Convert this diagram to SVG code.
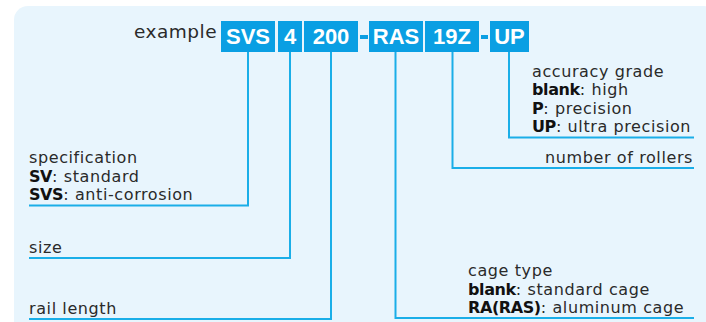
<svg xmlns="http://www.w3.org/2000/svg" width="706" height="322" viewBox="0 0 706 322">
<style>
.t{font-family:"DejaVu Sans",sans-serif;font-size:16px;letter-spacing:0.6px;fill:#2a2a2a}
.b{font-weight:bold;fill:#111;letter-spacing:-0.4px}
.k{font-family:"Liberation Sans",Arial,sans-serif;font-size:22px;font-weight:bold;fill:#fff;text-anchor:middle}
.box{fill:#0a9fe3}
.ln{fill:none;stroke:#1aaee8;stroke-width:2}
</style>
<rect x="14" y="6" width="704" height="340" rx="14" fill="#e8f5fd"/>
<text x="134" y="38" class="t" style="font-size:18.5px;letter-spacing:0.5px">example</text>
<g id="n-svs"><rect class="box" x="221" y="21" width="54" height="31"/><text class="k" x="248" y="44">SVS</text></g>
<g id="n-4"><rect class="box" x="278" y="21" width="24" height="31"/><text class="k" x="290" y="44">4</text></g>
<g id="n-200"><rect class="box" x="304" y="21" width="54" height="31"/><text class="k" x="331" y="44">200</text></g>
<g id="n-dash1"><rect class="box" x="360" y="35" width="8" height="4"/></g>
<g id="n-ras"><rect class="box" x="369" y="21" width="54" height="31"/><text class="k" x="396" y="44">RAS</text></g>
<g id="n-19z"><rect class="box" x="425" y="21" width="54" height="31"/><text class="k" x="452" y="44">19Z</text></g>
<g id="n-dash2"><rect class="box" x="481" y="35" width="7" height="4"/></g>
<g id="n-up"><rect class="box" x="490" y="21" width="39" height="31"/><text class="k" x="509.5" y="44">UP</text></g>
<g id="connectors">
<path class="ln" d="M248 52V205.5H29"/>
<path class="ln" d="M290 52V258H29"/>
<path class="ln" d="M331 52V319H29"/>
<path class="ln" d="M395.5 52V318H694"/>
<path class="ln" d="M452.5 52V168H694"/>
<path class="ln" d="M509 52V137.5H694"/>
</g>
<g id="l-spec"><text class="t" x="29" y="163">specification</text>
<text class="t" x="29" y="181.5"><tspan class="b">SV</tspan>: standard</text>
<text class="t" x="29" y="200"><tspan class="b">SVS</tspan>: anti-corrosion</text></g>
<g id="l-size"><text class="t" x="29" y="252.5">size</text></g>
<g id="l-rail"><text class="t" x="29" y="313.5">rail length</text></g>
<g id="l-acc"><text class="t" x="532" y="77">accuracy grade</text>
<text class="t" x="532" y="95.3"><tspan class="b">blank</tspan>: high</text>
<text class="t" x="532" y="113.6"><tspan class="b">P</tspan>: precision</text>
<text class="t" x="532" y="132"><tspan class="b">UP</tspan>: ultra precision</text></g>
<g id="l-rollers"><text class="t" x="693" y="162.5" text-anchor="end">number of rollers</text></g>
<g id="l-cage"><text class="t" x="468" y="276">cage type</text>
<text class="t" x="468" y="294.5"><tspan class="b">blank</tspan>: standard cage</text>
<text class="t" x="468" y="313"><tspan class="b">RA(RAS)</tspan>: aluminum cage</text></g>
</svg>
